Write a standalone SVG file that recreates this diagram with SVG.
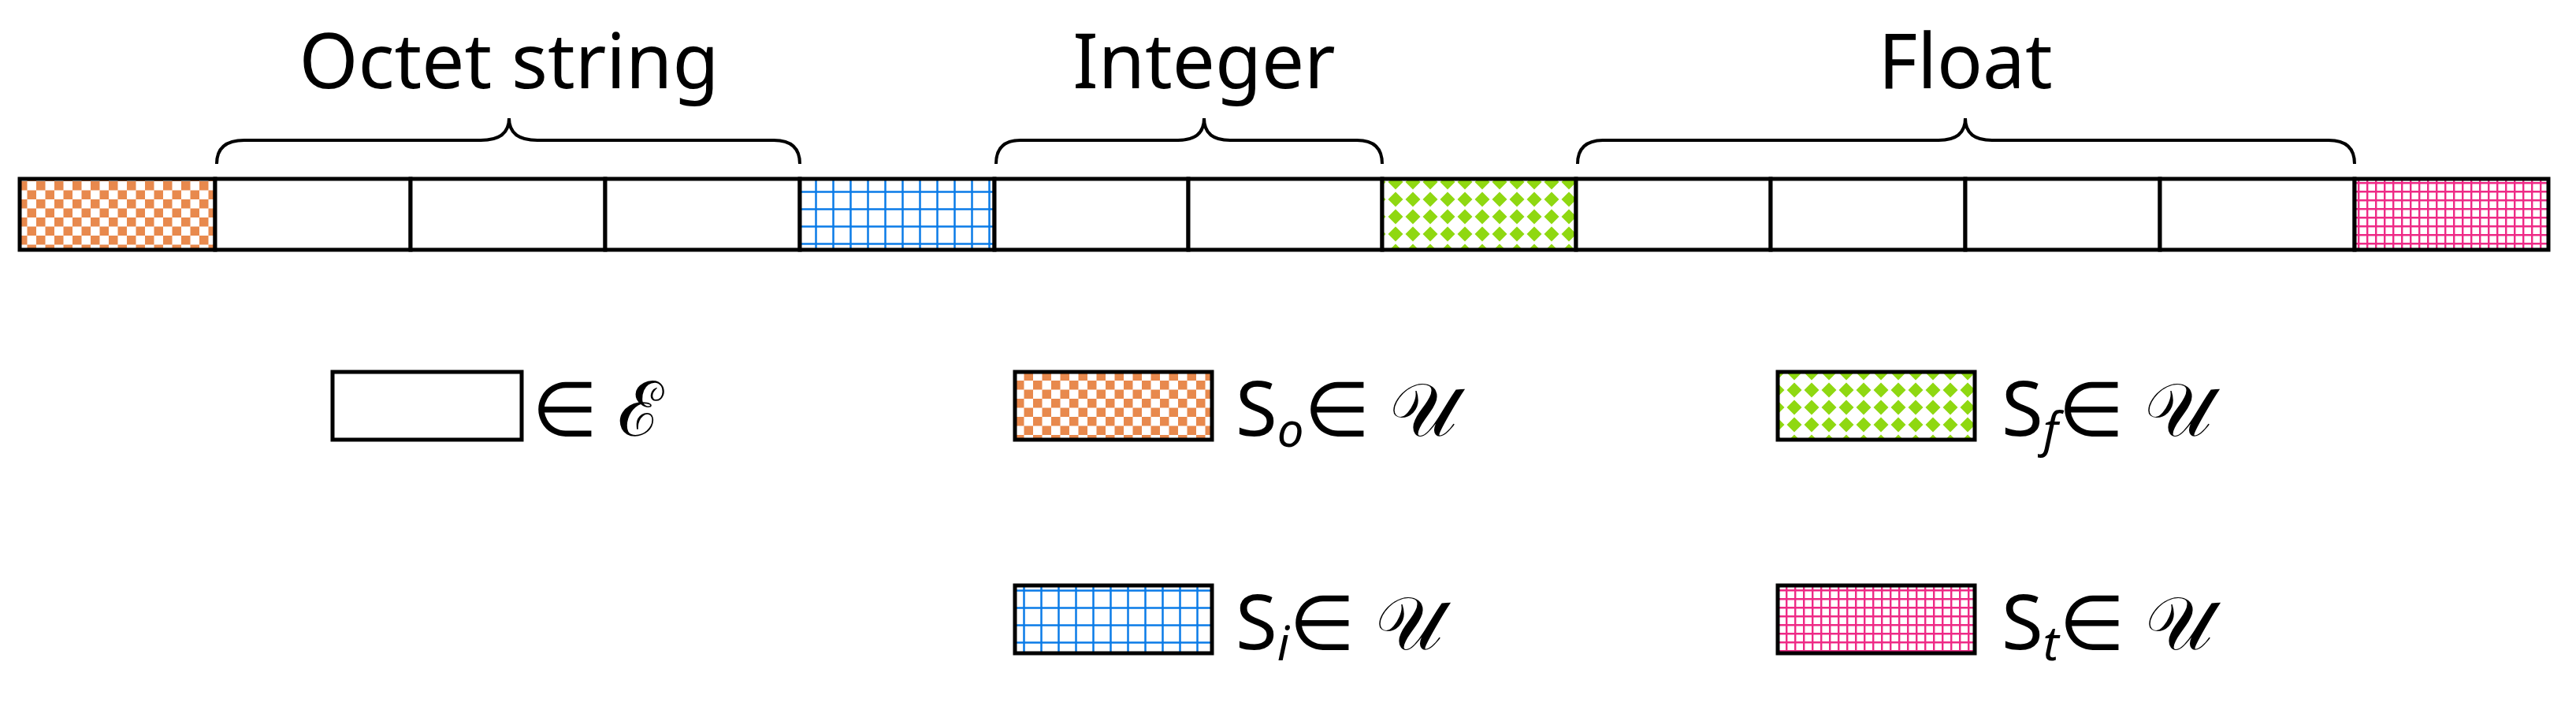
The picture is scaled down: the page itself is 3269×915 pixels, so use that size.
<svg xmlns="http://www.w3.org/2000/svg" width="3269" height="915" viewBox="0 0 3269 915">
<defs>
<pattern id="pO" width="23" height="23" patternUnits="userSpaceOnUse"><rect width="23" height="23" fill="#fff"/><rect width="11.5" height="11.5" fill="#e8894d"/><rect x="11.5" y="11.5" width="11.5" height="11.5" fill="#e8894d"/></pattern>
<pattern id="pB" width="22" height="22" patternUnits="userSpaceOnUse"><rect width="22" height="22" fill="#fff"/><path d="M0 1.5H22M1.5 0V22" stroke="#0a7be8" stroke-width="2.5"/></pattern>
<pattern id="pG" width="22" height="22" patternUnits="userSpaceOnUse"><rect width="22" height="22" fill="#fff"/><path d="M11 1.5L20.5 11L11 20.5L1.5 11Z" fill="#8fd811"/></pattern>
<pattern id="pP" width="11" height="11" patternUnits="userSpaceOnUse"><rect width="11" height="11" fill="#fff"/><path d="M0 1.2H11M1.2 0V11" stroke="#ee2a86" stroke-width="2.4"/></pattern>
</defs>
<style>
.c{stroke:#000;stroke-width:5}
.t{font-family:"Noto Sans","Liberation Sans",sans-serif;font-size:96px;fill:#000}
.br{fill:none;stroke:#000;stroke-width:4}
</style>
<rect width="3269" height="915" fill="#fff"/>
<g id="bar">
<rect class="c" x="25" y="227" width="248" height="90" fill="url(#pO)"/>
<rect class="c" x="273" y="227" width="248" height="90" fill="#fff"/>
<rect class="c" x="521" y="227" width="247" height="90" fill="#fff"/>
<rect class="c" x="768" y="227" width="247" height="90" fill="#fff"/>
<rect class="c" x="1015" y="227" width="247" height="90" fill="url(#pB)"/>
<rect class="c" x="1262" y="227" width="246" height="90" fill="#fff"/>
<rect class="c" x="1508" y="227" width="246" height="90" fill="#fff"/>
<rect class="c" x="1754" y="227" width="246" height="90" fill="url(#pG)"/>
<rect class="c" x="2000" y="227" width="247" height="90" fill="#fff"/>
<rect class="c" x="2247" y="227" width="247" height="90" fill="#fff"/>
<rect class="c" x="2494" y="227" width="247" height="90" fill="#fff"/>
<rect class="c" x="2741" y="227" width="247" height="90" fill="#fff"/>
<rect class="c" x="2988" y="227" width="246" height="90" fill="url(#pP)"/>
</g>
<g id="braces">
<path class="br" d="M275 208Q275 178 310 178H610Q646 178 646 150Q646 178 682 178H982Q1015 178 1015 208"/>
<path class="br" d="M1264 208Q1264 178 1295 178H1495Q1528 178 1528 150Q1528 178 1561 178H1722Q1754 178 1754 208"/>
<path class="br" d="M2002 208Q2002 178 2035 178H2460Q2494 178 2494 150Q2494 178 2528 178H2955Q2988 178 2988 208"/>
</g>
<g id="labels">
<text class="t" x="646" y="112" text-anchor="middle">Octet string</text>
<text class="t" x="1528" y="112" text-anchor="middle">Integer</text>
<text class="t" x="2494" y="112" text-anchor="middle">Float</text>
</g>
<g id="legend">
<rect class="c" x="422" y="472" width="240" height="86" fill="#fff"/>
<text class="t" x="675" y="553">∈ ℰ</text>
<rect class="c" x="1288" y="472" width="250" height="86" fill="url(#pO)"/>
<text class="t" x="1568" y="553">S<tspan font-size="60" font-style="italic" dy="14">o</tspan><tspan dy="-14">∈ 𝒰</tspan></text>
<rect class="c" x="2256" y="472" width="250" height="86" fill="url(#pG)"/>
<text class="t" x="2540" y="553">S<tspan font-size="60" font-style="italic" dy="14">f</tspan><tspan dy="-14">∈ 𝒰</tspan></text>
<rect class="c" x="1288" y="743" width="250" height="86" fill="url(#pB)"/>
<text class="t" x="1568" y="824">S<tspan font-size="60" font-style="italic" dy="14">i</tspan><tspan dy="-14">∈ 𝒰</tspan></text>
<rect class="c" x="2256" y="743" width="250" height="86" fill="url(#pP)"/>
<text class="t" x="2540" y="824">S<tspan font-size="60" font-style="italic" dy="14">t</tspan><tspan dy="-14">∈ 𝒰</tspan></text>
</g>
</svg>
